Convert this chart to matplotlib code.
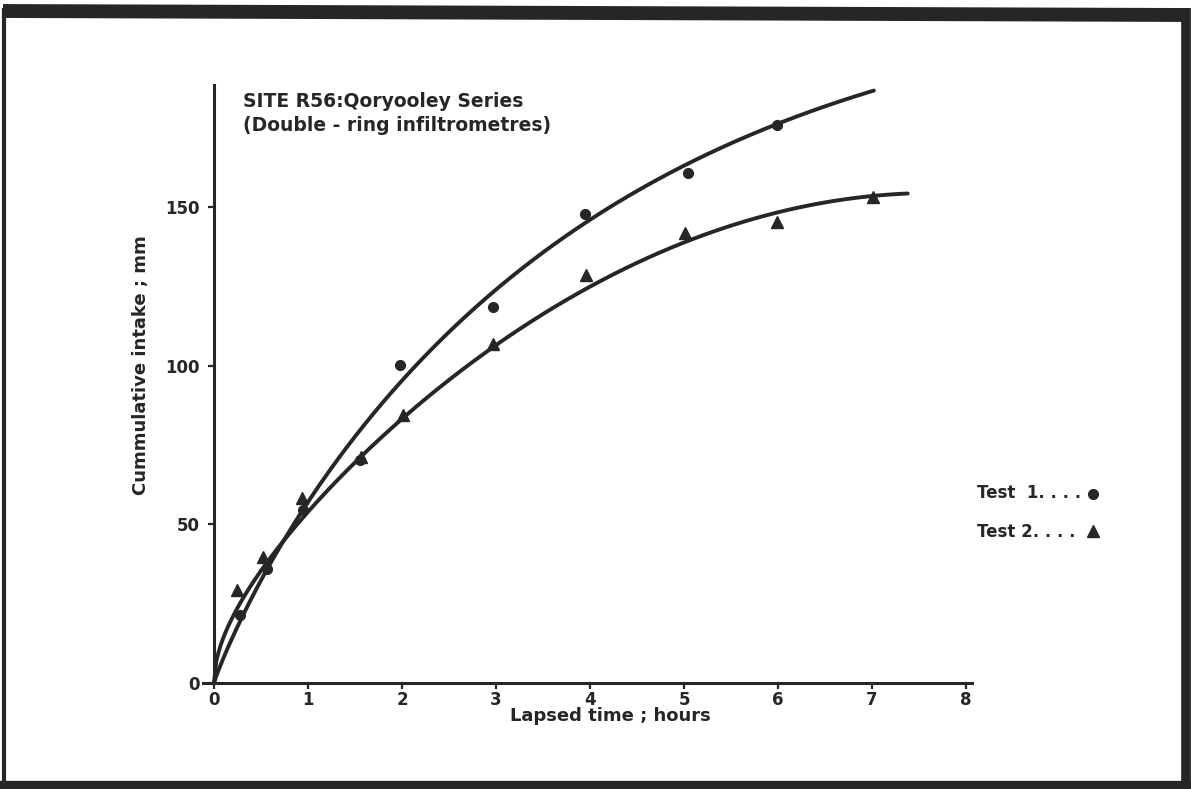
import numpy as np
import matplotlib
matplotlib.use('Agg')
import matplotlib.pyplot as plt
from matplotlib.lines import Line2D

plt.rcParams['font.family'] = ['DejaVu Sans']
plt.rcParams['font.weight'] = 'bold'

INK = '#262626'
W, H = 1191, 789

# measured cumulative intake (mm) against lapsed time (h)
t_test1 = [0.28, 0.56, 0.95, 1.55, 1.98, 2.97, 3.95, 5.04, 5.99]
y_test1 = [21.5, 36.0, 54.6, 70.3, 100.3, 118.6, 148.0, 160.9, 176.0]
t_test2 = [0.245, 0.52, 0.94, 1.56, 2.01, 2.97, 3.96, 5.01, 5.99, 7.01]
y_test2 = [29.3, 39.7, 58.4, 71.3, 84.5, 107.0, 128.7, 142.0, 145.4, 153.3]

# hand-drawn smoothing curves, sampled along their length
curve1_t = [0.31, 0.56, 0.84, 1.13, 1.59, 2.01, 2.51, 2.83, 3.18, 3.89, 4.78, 6.02, 7.02]
curve1_y = [22.0, 36.0, 49.0, 62.0, 81.0, 96.5, 111.0, 120.0, 128.0, 145.0, 158.7, 176.7, 187.0]
curve2_t = [0.255, 0.51, 0.91, 1.55, 2.05, 2.83, 3.04, 4.03, 5.03, 5.49, 6.02, 6.9, 7.38]
curve2_y = [22.0, 36.0, 54.6, 69.7, 83.6, 102.0, 107.0, 127.0, 140.0, 144.0, 148.0, 153.0, 154.6]

x_ticks = [0, 1, 2, 3, 4, 5, 6, 7, 8]
y_ticks = [0, 50, 100, 150]


def basis(t):
    s = np.sqrt(t)
    return np.column_stack([s, s**2, s**3, s**4])


def smooth_curve(t, y, n=300):
    # least squares in powers of sqrt(t), forced through the origin
    t = np.asarray(t)
    coef, *_ = np.linalg.lstsq(basis(t), np.asarray(y), rcond=None)
    tt = np.linspace(0, t.max(), n)
    return tt, basis(tt) @ coef


def fx(px):
    return px / W


def fy(py):
    return 1 - py / H


x_lo, x_hi = -0.12, 8.06
px_per_h = 94.0
ax_left = 214 - (0 - x_lo) * px_per_h
ax_right = 214 + x_hi * px_per_h

fig = plt.figure(figsize=(W / 100, H / 100), dpi=100)
fig.patch.set_facecolor('white')
ax = fig.add_axes([fx(ax_left), fy(683), fx(ax_right) - fx(ax_left), fy(85) - fy(683)])

tt, yy = smooth_curve(curve1_t, curve1_y)
ax.plot(tt, yy, color=INK, lw=2.8, solid_capstyle='round')
tt, yy = smooth_curve(curve2_t, curve2_y)
ax.plot(tt, yy, color=INK, lw=2.8, solid_capstyle='round')

ax.plot(t_test1, y_test1, 'o', color=INK, ms=7, mec=INK)
ax.plot(t_test2, y_test2, '^', color=INK, ms=9, mec=INK)

ax.set_xlim(x_lo, x_hi)
ax.set_ylim(0, 188.6)
ax.spines['left'].set_position(('data', 0))
for side in ['top', 'right']:
    ax.spines[side].set_visible(False)
for side in ['left', 'bottom']:
    ax.spines[side].set_linewidth(2.2)
    ax.spines[side].set_color(INK)

ax.set_xticks(x_ticks)
ax.set_yticks(y_ticks)
ax.tick_params(direction='out', length=4.5, width=1.6, color=INK,
               labelsize=12, labelcolor=INK)
ax.tick_params(axis='x', pad=1)
ax.tick_params(axis='y', pad=6)
for lab in ax.get_xticklabels() + ax.get_yticklabels():
    lab.set_fontweight('bold')

ax.set_xlabel('Lapsed time ; hours', fontsize=13, fontweight='bold', color=INK)
ax.xaxis.set_label_coords(fx(610), fy(716), transform=fig.transFigure)
ax.xaxis.label.set_va('center')
ax.set_ylabel('Cummulative intake ; mm', fontsize=13, fontweight='bold', color=INK)
ax.yaxis.set_label_coords(fx(150), fy(365), transform=fig.transFigure)

fig.text(fx(243), fy(92), 'SITE R56:Qoryooley Series\n(Double - ring infiltrometres)',
         fontsize=13.5, fontweight='bold', color=INK,
         va='top', ha='left', linespacing=1.35)

# key
fig.text(fx(977), fy(493), 'Test  1. . . .', fontsize=12, fontweight='bold',
         color=INK, va='center', ha='left')
fig.text(fx(977), fy(532), 'Test 2. . . .', fontsize=12, fontweight='bold',
         color=INK, va='center', ha='left')
fig.add_artist(Line2D([fx(1093)], [fy(494)], marker='o', ms=7, color=INK,
                      transform=fig.transFigure))
fig.add_artist(Line2D([fx(1093)], [fy(531)], marker='^', ms=9, color=INK,
                      transform=fig.transFigure))

# page border
fig.add_artist(Line2D([fx(3), fx(1189)], [fy(11), fy(15)], lw=10, color=INK,
                      transform=fig.transFigure, solid_capstyle='butt'))
fig.add_artist(Line2D([fx(1186), fx(1186)], [fy(8), fy(789)], lw=7, color=INK,
                      transform=fig.transFigure, solid_capstyle='butt'))
fig.add_artist(Line2D([fx(4), fx(4)], [fy(8), fy(789)], lw=3, color=INK,
                      transform=fig.transFigure, solid_capstyle='butt'))
fig.add_artist(Line2D([fx(0), fx(1191)], [fy(785), fy(785)], lw=6, color=INK,
                      transform=fig.transFigure, solid_capstyle='butt'))

fig.savefig('out.png', dpi=100, facecolor='white')
